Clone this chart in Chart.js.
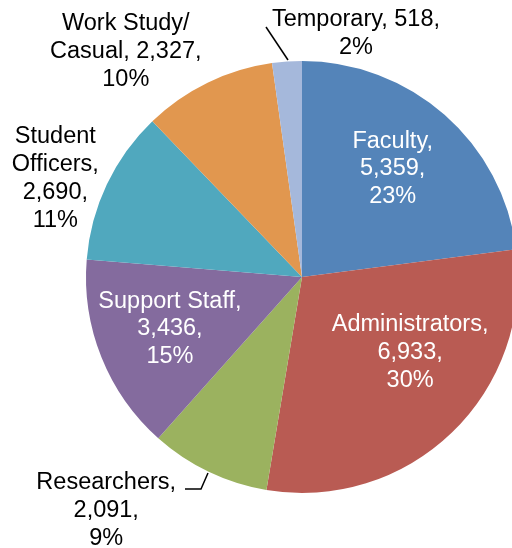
<!DOCTYPE html>
<html>
<head>
<meta charset="utf-8">
<script src="https://cdn.jsdelivr.net/npm/chart.js@4.4.1/dist/chart.umd.min.js"></script>
<style>
  html, body { margin: 0; padding: 0; background: #fff; overflow: hidden; }
  #wrap { position: relative; width: 524px; height: 548px; }
</style>
</head>
<body>
<div id="wrap"><canvas id="pie-chart"></canvas></div>
<script>
// DATA
const categories = ['Faculty', 'Administrators', 'Researchers', 'Support Staff', 'Student Officers', 'Work Study/ Casual', 'Temporary'];
const headcounts = [5359, 6933, 2091, 3436, 2690, 2327, 518];
const percentLabels = ['23%', '30%', '9%', '15%', '11%', '10%', '2%'];

// label line breaks as printed on the chart
const labelLines = [
  ['Faculty,', '5,359,', '23%'],
  ['Administrators,', '6,933,', '30%'],
  ['Researchers,', '2,091,', '9%'],
  ['Support Staff,', '3,436,', '15%'],
  ['Student', 'Officers,', '2,690,', '11%'],
  ['Work Study/', 'Casual, 2,327,', '10%'],
  ['Temporary, 518,', '2%']
];

const sliceColors = ['#5484b9', '#b95b53', '#9bb25f', '#846b9e', '#50a8be', '#e1974f', '#a5b8db'];

// label spot: angle from 12 o'clock (deg), distance as share of radius, text colour
const labelSpots = [
  [40, 0.653, '#fff'],
  [125, 0.611, '#fff'],
  [220, 1.41, '#000'],
  [248.5, 0.657, '#fff'],
  [291.8, 1.23, '#000'],
  [322, 1.325, '#000'],
  [12.5, 1.155, '#000']
];

const pieLabels = {
  id: 'pieLabels',
  afterDatasetsDraw(chart) {
    const ctx = chart.ctx;
    const arc = chart.getDatasetMeta(0).data[0];
    const cx = arc.x, cy = arc.y, r = arc.outerRadius;
    ctx.save();
    ctx.font = '23.5px "Liberation Sans", Arial, sans-serif';
    ctx.textAlign = 'center';
    ctx.textBaseline = 'middle';
    const lh = 27.8;
    labelLines.forEach((lines, i) => {
      const a = labelSpots[i][0] * Math.PI / 180;
      const x = cx + Math.sin(a) * r * labelSpots[i][1];
      const y = cy - Math.cos(a) * r * labelSpots[i][1];
      ctx.fillStyle = labelSpots[i][2];
      const y0 = y - (lines.length - 1) * lh / 2;
      lines.forEach((t, k) => ctx.fillText(t, x, y0 + k * lh));
    });
    // leader lines
    ctx.strokeStyle = '#000';
    ctx.lineWidth = 1.5;
    ctx.beginPath();
    ctx.moveTo(cx - 36, cy - 250);
    ctx.lineTo(cx - 14, cy - 217);
    ctx.stroke();
    ctx.beginPath();
    ctx.moveTo(cx - 117, cy + 212);
    ctx.lineTo(cx - 101, cy + 212);
    ctx.lineTo(cx - 94, cy + 196);
    ctx.stroke();
    ctx.restore();
  }
};

const data = {
  labels: categories,
  datasets: [{
    data: headcounts,
    backgroundColor: sliceColors,
    borderWidth: 0
  }]
};

const config = {
  type: 'pie',
  data,
  options: {
    responsive: false,
    animation: false,
    layout: { padding: { left: 86, right: 6, top: 61, bottom: 55 } },
    plugins: {
      legend: { display: false },
      tooltip: { enabled: false }
    }
  },
  plugins: [pieLabels]
};

const canvas = document.getElementById('pie-chart');
canvas.width = 524;
canvas.height = 548;
const pieChart = new Chart(canvas, config);
</script>
</body>
</html>
